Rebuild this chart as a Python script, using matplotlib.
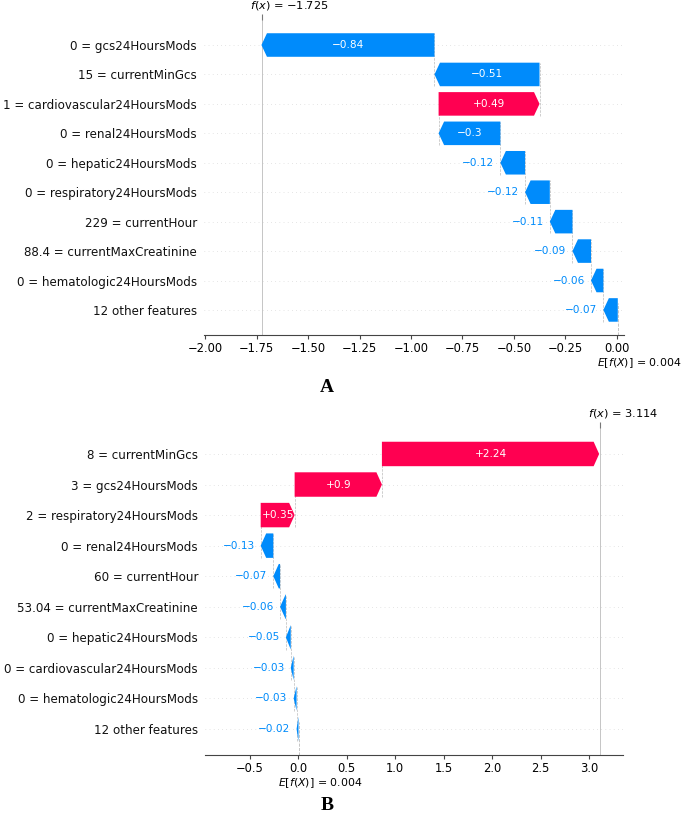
import matplotlib
matplotlib.use("Agg")
import matplotlib.pyplot as plt
from matplotlib.patches import FancyArrow

plt.rcParams["font.family"] = "DejaVu Sans"

ROJO = "#ff0051"
AZUL = "#008bfb"

# Panel A (filas de arriba hacia abajo)
etiquetas_a = [
    "0 = gcs24HoursMods",
    "15 = currentMinGcs",
    "1 = cardiovascular24HoursMods",
    "0 = renal24HoursMods",
    "0 = hepatic24HoursMods",
    "0 = respiratory24HoursMods",
    "229 = currentHour",
    "88.4 = currentMaxCreatinine",
    "0 = hematologic24HoursMods",
    "12 other features",
]
valores_a = [-0.84, -0.51, 0.49, -0.3, -0.12, -0.12, -0.11, -0.09, -0.06, -0.07]
base_a = 0.004
fx_a = -1.725
ticks_a = [-2.0, -1.75, -1.5, -1.25, -1.0, -0.75, -0.5, -0.25, 0.0]
limites_a = (-2.005, 0.034)

# Panel B
etiquetas_b = [
    "8 = currentMinGcs",
    "3 = gcs24HoursMods",
    "2 = respiratory24HoursMods",
    "0 = renal24HoursMods",
    "60 = currentHour",
    "53.04 = currentMaxCreatinine",
    "0 = hepatic24HoursMods",
    "0 = cardiovascular24HoursMods",
    "0 = hematologic24HoursMods",
    "12 other features",
]
valores_b = [2.24, 0.9, 0.35, -0.13, -0.07, -0.06, -0.05, -0.03, -0.03, -0.02]
base_b = 0.004
fx_b = 3.114
ticks_b = [-0.5, 0.0, 0.5, 1.0, 1.5, 2.0, 2.5, 3.0]
limites_b = (-0.96, 3.35)


def formato(valor):
    texto = f"{valor:+.2f}".rstrip("0").rstrip(".")
    return texto.replace("-", "\u2212")


def cascada(fig, rect, etiquetas, valores, base, fx, limites, ticks):
    """Dibuja un grafico tipo waterfall de SHAP en el rectangulo dado."""
    ax = fig.add_axes(rect)
    n = len(valores)
    ax.set_xlim(limites)
    ax.set_ylim(-0.85, n - 1 + 0.85)
    renderer = fig.canvas.get_renderer()

    ancho_px = ax.get_window_extent(renderer).width
    escala = (limites[1] - limites[0]) / ancho_px
    cabeza = 5.5 * escala

    ys = [n - 1 - i for i in range(n)]
    inicios = [0.0] * n
    acumulado = base
    for i in reversed(range(n)):
        inicios[i] = acumulado
        acumulado += valores[i]

    for i in range(n):
        y = ys[i]
        inicio = inicios[i]
        valor = valores[i]
        color = ROJO if valor > 0 else AZUL

        ax.axhline(y, color="#cccccc", lw=0.5, dashes=(1, 5), zorder=-1)

        flecha = FancyArrow(
            inicio, y, valor, 0,
            width=0.8, head_width=0.8,
            head_length=min(abs(valor), cabeza),
            length_includes_head=True,
            color=color, linewidth=0,
        )
        ax.add_patch(flecha)

        # linea que conecta con la fila de arriba
        if i > 0:
            fin = inicio + valor
            ax.plot([fin, fin], [y - 0.4, y + 1 + 0.4], color="#bbbbbb",
                    lw=0.5, ls="--", zorder=-1)

        txt = ax.text(inicio + valor / 2, y, formato(valor), ha="center",
                      va="center", color="white", fontsize=7.6)
        if txt.get_window_extent(renderer).width > flecha.get_window_extent(renderer).width:
            txt.remove()
            desplazamiento = -6 if valor < 0 else 6
            ax.annotate(formato(valor), xy=(inicio + valor, y),
                        xytext=(desplazamiento, 0), textcoords="offset pixels",
                        ha="right" if valor < 0 else "left", va="center",
                        color=color, fontsize=7.6)

    ax.axvline(fx, 0, 1, color="#bbbbbb", lw=0.6, zorder=-1)
    ax.axvline(base, 0, 1 / n, color="#bbbbbb", lw=0.6, ls="--", zorder=-1)

    ax.set_yticks(ys)
    ax.set_yticklabels(etiquetas, fontsize=8.6, color="#111111")
    ax.tick_params(axis="y", length=0, pad=5)

    ax.set_xticks(ticks)
    ax.tick_params(axis="x", labelsize=8.3, length=3, pad=2, color="#444444")

    for lado in ["top", "right", "left"]:
        ax.spines[lado].set_visible(False)
    ax.spines["bottom"].set_color("#444444")

    # marca superior de f(x)
    ax2 = ax.twiny()
    ax2.set_xlim(limites)
    ax2.set_xticks([fx])
    ax2.set_xticklabels([""])
    ax2.tick_params(axis="x", length=4, color="#777777")
    for lado in ax2.spines.values():
        lado.set_visible(False)

    ax.annotate(f"$f(x)$ = {fx:.3f}".replace("-", "\u2212"),
                xy=(fx, 1), xycoords=("data", "axes fraction"),
                xytext=(-12, 14), textcoords="offset pixels",
                ha="left", va="center", fontsize=8.2)
    ax.annotate(f"$E[f(X)]$ = {base:.3f}",
                xy=(base, 0), xycoords=("data", "axes fraction"),
                xytext=(-21, -28), textcoords="offset pixels",
                ha="left", va="center", fontsize=7.9)
    return ax


fig = plt.figure(figsize=(6.85, 8.16), dpi=100)

cascada(fig, [0.2978, 0.5895, 0.6131, 0.3860], etiquetas_a, valores_a,
        base_a, fx_a, limites_a, ticks_a)
cascada(fig, [0.2993, 0.0748, 0.6102, 0.4007], etiquetas_b, valores_b,
        base_b, fx_b, limites_b, ticks_b)

fig.text(327 / 685, 1 - 388 / 816, "A", family="Liberation Serif",
         fontweight="bold", fontsize=14, ha="center", va="center")
fig.text(327 / 685, 1 - 805 / 816, "B", family="Liberation Serif",
         fontweight="bold", fontsize=14, ha="center", va="center")

fig.savefig("out.png", dpi=100)
